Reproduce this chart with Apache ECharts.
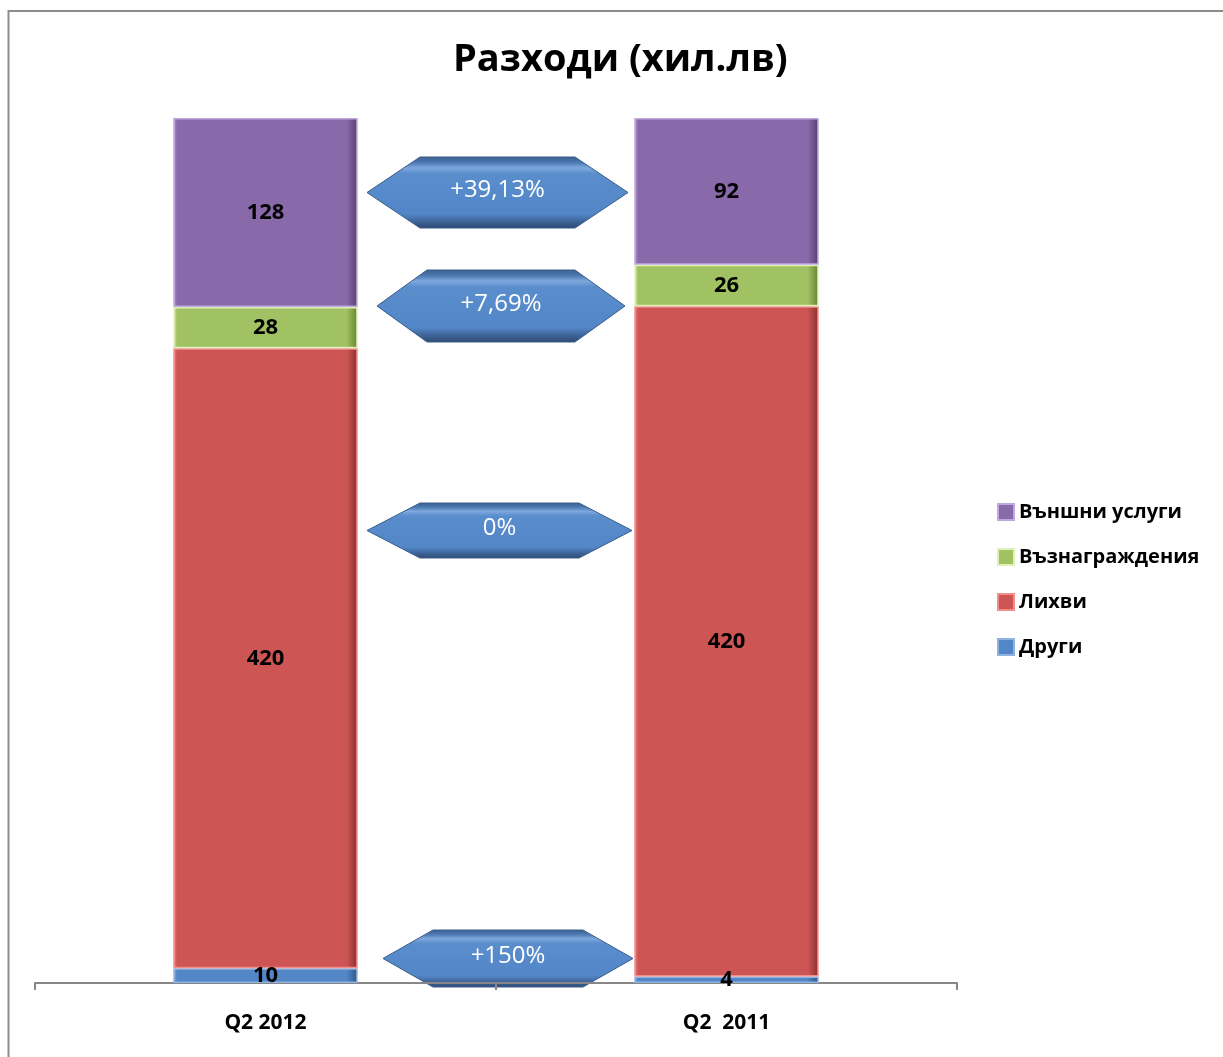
<!DOCTYPE html>
<html>
<head>
<meta charset="utf-8">
<title>Разходи</title>
<script src="https://cdn.jsdelivr.net/npm/echarts@6/dist/echarts.min.js"></script>
<style>
  html, body { margin: 0; padding: 0; background: #fff; }
  #main { width: 1223px; height: 1057px; }
</style>
</head>
<body>
<div id="main"></div>
<script>
// Data
var categories = ['Q2 2012', 'Q2  2011'];
var other = [10, 4];          // Други
var interest = [420, 420];    // Лихви
var rewards = [28, 26];       // Възнаграждения
var services = [128, 92];     // Външни услуги
var changeLabels = ['+39,13%', '+7,69%', '0%', '+150%'];

var FONT = '"Open Sans", "Noto Sans", sans-serif';

// 100% stacked: convert every value to share of column total
var totals = categories.map(function (c, i) {
    return other[i] + interest[i] + rewards[i] + services[i];
});
function toPercent(arr) {
    return arr.map(function (v, i) { return { value: v / totals[i] * 100, raw: v }; });
}

// bevel-ish fill: darker at the right edge
function barFill(base, dark, light) {
    return new echarts.graphic.LinearGradient(0, 0, 1, 0, [
        { offset: 0, color: light },
        { offset: 0.02, color: base },
        { offset: 0.94, color: base },
        { offset: 1, color: dark }
    ]);
}

function makeSeries(name, arr, base, dark, edge) {
    return {
        name: name,
        type: 'bar',
        stack: 'total',
        barWidth: '40%',
        data: toPercent(arr),
        itemStyle: {
            color: barFill(base, dark, edge),
            borderColor: edge,
            borderWidth: 1.5
        },
        label: {
            show: true,
            position: 'inside',
            formatter: function (p) { return p.data.raw; },
            color: '#000',
            fontFamily: FONT,
            fontWeight: 'bold',
            fontSize: 22
        },
        emphasis: { disabled: true }
    };
}

// layout of the hexagonal arrows (pixel boxes)
var arrowBoxes = [
    { x: 367, y: 157, w: 261, h: 71, tip: 53 },
    { x: 377, y: 270, w: 248, h: 72, tip: 50 },
    { x: 367, y: 503, w: 265, h: 55, tip: 53 },
    { x: 383, y: 930, w: 250, h: 57, tip: 50 }
];

var arrowGraphics = changeLabels.map(function (txt, i) {
    var b = arrowBoxes[i];
    return {
        type: 'group',
        z: 100,
        children: [
            {
                type: 'polygon',
                shape: {
                    points: [
                        [b.x, b.y + b.h / 2],
                        [b.x + b.tip, b.y],
                        [b.x + b.w - b.tip, b.y],
                        [b.x + b.w, b.y + b.h / 2],
                        [b.x + b.w - b.tip, b.y + b.h],
                        [b.x + b.tip, b.y + b.h]
                    ]
                },
                style: {
                    fill: new echarts.graphic.LinearGradient(0, 0, 0, 1, [
                        { offset: 0, color: '#3b5f8e' },
                        { offset: 0.08, color: '#4a77b0' },
                        { offset: 0.16, color: '#7ea8de' },
                        { offset: 0.24, color: '#5a8dcc' },
                        { offset: 0.8, color: '#5386c7' },
                        { offset: 0.9, color: '#3f6599' },
                        { offset: 1, color: '#2c4a72' }
                    ]),
                    stroke: '#3a5d8a',
                    lineWidth: 1
                }
            },
            {
                type: 'text',
                style: {
                    x: b.x + b.w / 2,
                    y: b.y + b.h / 2 - 2,
                    text: txt,
                    fill: '#fff',
                    font: '24px ' + FONT,
                    align: 'center',
                    verticalAlign: 'middle'
                }
            }
        ]
    };
});

var chart = echarts.init(document.getElementById('main'));

var option = {
    animation: false,
    backgroundColor: '#fff',
    title: {
        text: 'Разходи (хил.лв)',
        left: 448,
        top: 36,
        textStyle: {
            fontFamily: FONT,
            fontWeight: 'bold',
            fontSize: 38,
            color: '#000'
        }
    },
    legend: {
        orient: 'vertical',
        left: 992,
        top: 497,
        itemWidth: 16,
        itemHeight: 16,
        itemGap: 25,
        icon: 'rect',
        data: ['Външни услуги', 'Възнаграждения', 'Лихви', 'Други'],
        textStyle: {
            fontFamily: FONT,
            fontWeight: 'bold',
            fontSize: 20,
            color: '#000'
        }
    },
    grid: {
        left: 35,
        right: 266,
        top: 118,
        bottom: 74
    },
    xAxis: {
        type: 'category',
        data: categories,
        axisLine: { lineStyle: { color: '#868686', width: 2 } },
        axisTick: { show: true, length: 7, lineStyle: { color: '#868686', width: 2 } },
        axisLabel: {
            margin: 30,
            color: '#000',
            fontFamily: FONT,
            fontWeight: 'bold',
            fontSize: 21
        }
    },
    yAxis: {
        type: 'value',
        min: 0,
        max: 100,
        show: false
    },
    series: [
        makeSeries('Други', other, '#5286c6', '#2f5583', '#8fb3e0'),
        makeSeries('Лихви', interest, '#cd5654', '#8a2f2d', '#f28d8b'),
        makeSeries('Възнаграждения', rewards, '#a1c262', '#66802f', '#dff0b8'),
        makeSeries('Външни услуги', services, '#886aab', '#54406e', '#bfa6dc')
    ],
    color: ['#4f81bd', '#c0504d', '#9bbb59', '#8064a2'],
    graphic: [
        {
            type: 'rect',
            shape: { x: 8.5, y: 11, width: 1300, height: 1200 },
            style: { fill: 'none', stroke: '#8c8c8c', lineWidth: 2 },
            silent: true
        }
    ].concat(arrowGraphics)
};

chart.setOption(option);
</script>
</body>
</html>
